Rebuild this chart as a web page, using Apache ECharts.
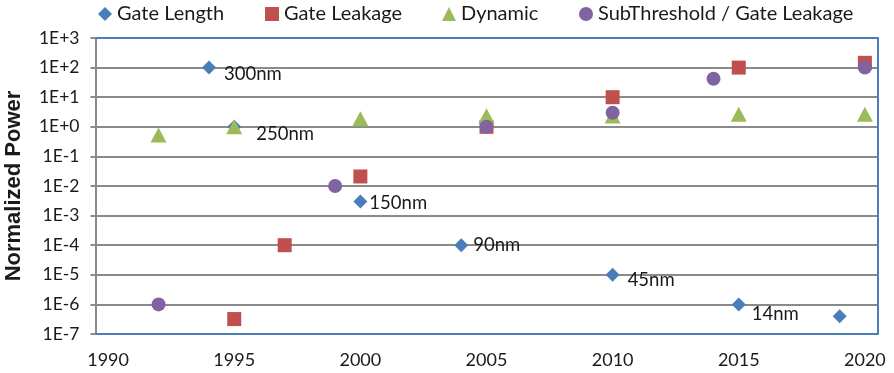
<!DOCTYPE html>
<html><head><meta charset="utf-8">
<script src="https://cdn.jsdelivr.net/npm/echarts@6/dist/echarts.min.js"></script>
<style>html,body{margin:0;padding:0;background:#fff}#c{width:894px;height:373px}</style>
</head><body><div id="c"></div>
<script>
// ---- data ----
const seriesNames = ['Gate Length', 'Gate Leakage', 'Dynamic', 'SubThreshold / Gate Leakage'];
const gateLengthYears = [1994, 1995, 2000, 2004, 2010, 2015, 2019];
const gateLengthValues = [100, 1.0, 0.003, 1e-4, 1e-5, 1e-6, 4e-7];
const gateLengthLabels = ['300nm', '250nm', '150nm', '90nm', '45nm', '14nm', ''];
const gateLeakageYears = [1995, 1997, 2000, 2005, 2010, 2015, 2020];
const gateLeakageValues = [3.2e-7, 1e-4, 0.021, 1.0, 10, 100, 145];
const dynamicYears = [1992, 1995, 2000, 2005, 2010, 2015, 2020];
const dynamicValues = [0.53, 1.0, 1.86, 2.35, 2.3, 2.64, 2.64];
const subThresholdYears = [1992, 1999, 2005, 2010, 2014, 2020];
const subThresholdValues = [1e-6, 0.01, 1.0, 3.0, 42, 100];
const xTickLabels = [1990, 1995, 2000, 2005, 2010, 2015, 2020];
const yAxisTitle = 'Normalized Power';

// ---- styling (kept apart from data) ----
const labelOffsets = [[3, 6], [10, 7], [-3, 2], [0, 0], [3, 5], [1, 10], [0, 0]];
const FONT = 'Lato, "Open Sans", sans-serif';
const TXT = '#1a1a1a';
const BLUE = '#4a7ebb';
const GREY = '#8a8a8a';

const pairs = (xs, ys) => xs.map((x, i) => [x, ys[i]]);

const chart = echarts.init(document.getElementById('c'), null, {renderer: 'canvas'});

function legendFor(i, left) {
  return {
    left: left, top: 4, padding: 0, data: [seriesNames[i]], itemWidth: 14, itemHeight: 14, itemGap: 6,
    textStyle: {fontFamily: FONT, fontSize: 20, color: TXT}
  };
}

const option = {
  animation: false,
  backgroundColor: '#fff',
  legend: [legendFor(0, 98), legendFor(1, 265), legendFor(2, 442), legendFor(3, 579)],
  grid: {left: 95.5, top: 38, width: 782, height: 296, containLabel: false, outerBoundsMode: 'none'},
  xAxis: [{
    type: 'value', min: 1989.5, max: 2020.5, position: 'bottom',
    axisLine: {show: true, onZero: false, lineStyle: {color: BLUE, width: 2}},
    axisTick: {show: false}, splitLine: {show: false},
    axisLabel: {customValues: xTickLabels, formatter: v => String(v), fontFamily: FONT, fontSize: 18, color: TXT, margin: 17}
  }, {
    type: 'value', min: 1989.5, max: 2020.5, position: 'top',
    axisLine: {show: true, onZero: false, lineStyle: {color: BLUE, width: 2}},
    axisTick: {show: false}, splitLine: {show: false}, axisLabel: {show: false}
  }],
  yAxis: [{
    type: 'log', logBase: 10, min: 1e-7, max: 1e3, interval: 1,
    name: yAxisTitle, nameLocation: 'middle', nameGap: 71,
    nameTextStyle: {fontFamily: '"Liberation Sans", Arial, sans-serif', fontSize: 22, fontWeight: 'bold', color: TXT},
    axisLine: {show: true, onZero: false, lineStyle: {color: GREY, width: 2}},
    axisTick: {show: true, length: 5, lineStyle: {color: GREY, width: 2}},
    splitLine: {show: true, lineStyle: {color: GREY, width: 2}},
    axisLabel: {
      fontFamily: FONT, fontSize: 17.5, color: TXT, margin: 16,
      formatter: v => { const e = Math.round(Math.log10(v)); return '1E' + (e >= 0 ? '+' : '') + e; }
    }
  }, {
    type: 'log', logBase: 10, min: 1e-7, max: 1e3, interval: 1, position: 'right',
    axisLine: {show: true, onZero: false, lineStyle: {color: BLUE, width: 2}},
    axisTick: {show: false}, splitLine: {show: false}, axisLabel: {show: false}
  }],
  series: [
    {
      name: seriesNames[0], type: 'scatter', symbol: 'diamond', symbolSize: 14,
      itemStyle: {color: BLUE, opacity: 1}, z: 2,
      data: pairs(gateLengthYears, gateLengthValues).map((p, i) => ({
        value: p,
        label: {show: gateLengthLabels[i] !== '', position: 'right', distance: 5, offset: labelOffsets[i],
          formatter: gateLengthLabels[i], fontFamily: FONT, fontSize: 18.5, color: TXT}
      }))
    },
    {name: seriesNames[1], type: 'scatter', symbol: 'rect', symbolSize: 14, itemStyle: {color: '#c0504d', opacity: 1}, z: 3,
      data: pairs(gateLeakageYears, gateLeakageValues)},
    {name: seriesNames[2], type: 'scatter', symbol: 'triangle', symbolSize: [16, 15], itemStyle: {color: '#9bbb59', opacity: 1}, z: 4,
      data: pairs(dynamicYears, dynamicValues)},
    {name: seriesNames[3], type: 'scatter', symbol: 'circle', symbolSize: 14, itemStyle: {color: '#8064a2', opacity: 1}, z: 5,
      data: pairs(subThresholdYears, subThresholdValues)}
  ]
};
chart.setOption(option);
</script>
</body></html>
